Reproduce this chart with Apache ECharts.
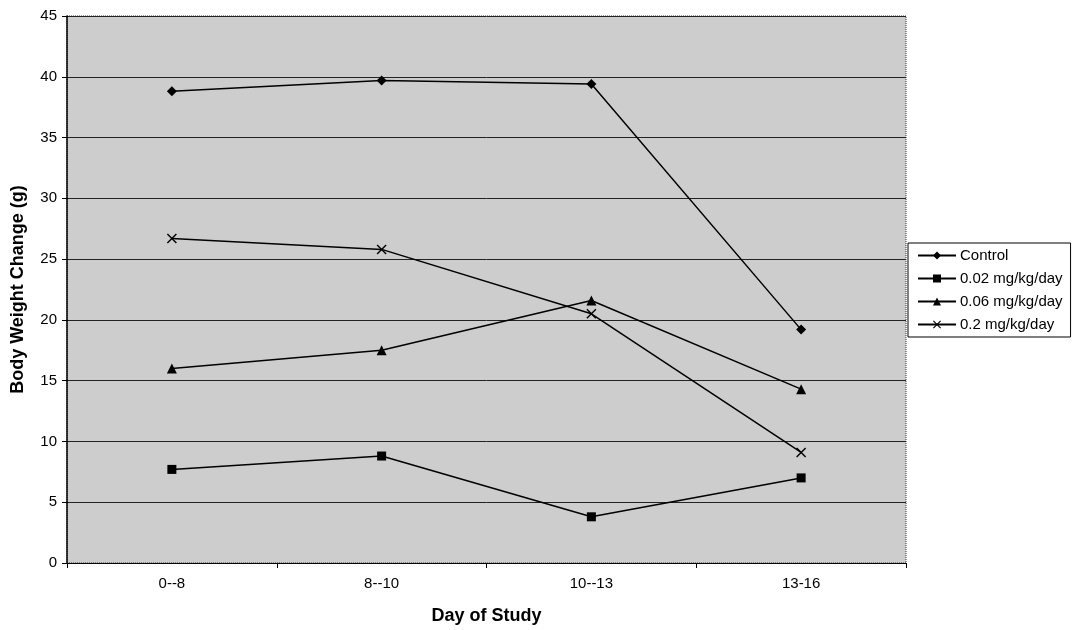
<!DOCTYPE html>
<html>
<head>
<meta charset="utf-8">
<script src="https://cdn.jsdelivr.net/npm/echarts@6/dist/echarts.min.js"></script>
<style>
  html, body { margin: 0; padding: 0; background: #ffffff; }
  #chart { width: 1073px; height: 630px; }
</style>
</head>
<body>
<div id="chart"></div>
<script>
// Body weight change per study interval, by dose group
const categories = ['0--8', '8--10', '10--13', '13-16'];
const control = [38.8, 39.7, 39.4, 19.2];
const dose002 = [7.7, 8.8, 3.8, 7.0];
const dose006 = [16.0, 17.5, 21.6, 14.3];
const dose02 = [26.7, 25.8, 20.5, 9.1];
const seriesNames = ['Control', '0.02 mg/kg/day', '0.06 mg/kg/day', '0.2 mg/kg/day'];
const yTicks = [0, 5, 10, 15, 20, 25, 30, 35, 40, 45];

const FONT = '"Liberation Sans", Arial, sans-serif';
const crossPath = 'path://M0,1L1,0L5,4L9,0L10,1L6,5L10,9L9,10L5,6L1,10L0,9L4,5Z';

function lineSeries(name, data, symbol, size) {
  return {
    name: name,
    type: 'line',
    data: data,
    symbol: symbol,
    symbolSize: size,
    lineStyle: { color: '#000', width: 1.5 },
    itemStyle: { color: '#000' },
    emphasis: { disabled: true },
    z: 3
  };
}

const chart = echarts.init(document.getElementById('chart'), null, { renderer: 'canvas' });
chart.setOption({
  animation: false,
  backgroundColor: '#ffffff',
  textStyle: { fontFamily: FONT },
  grid: {
    left: 67, top: 16, right: 167, bottom: 66,
    show: true,
    backgroundColor: '#cdcdcd',
    borderColor: '#333',
    borderWidth: 1,
    borderType: 'dotted'
  },
  legend: {
    orient: 'vertical',
    left: 908, top: 243,
    padding: [5, 8, 5, 9],
    itemGap: 8,
    itemWidth: 38,
    itemHeight: 10,
    backgroundColor: '#ffffff',
    borderColor: '#000',
    borderWidth: 1,
    textStyle: { fontFamily: FONT, fontSize: 15, color: '#000', padding: [0, 0, 0, -1] },
    data: seriesNames.map(n => ({ name: n }))
  },
  xAxis: {
    type: 'category',
    data: categories,
    boundaryGap: true,
    name: 'Day of Study',
    nameLocation: 'middle',
    nameGap: 44,
    nameTextStyle: { fontFamily: FONT, fontSize: 18, fontWeight: 'bold', color: '#000' },
    axisLine: { lineStyle: { color: '#000', width: 1 } },
    axisTick: { show: true, alignWithLabel: false, length: 5, lineStyle: { color: '#000' } },
    axisLabel: { fontFamily: FONT, fontSize: 15, color: '#000', margin: 13 },
    splitLine: { show: false }
  },
  yAxis: {
    type: 'value',
    min: yTicks[0],
    max: yTicks[yTicks.length - 1],
    interval: 5,
    name: 'Body Weight Change (g)',
    nameLocation: 'middle',
    nameGap: 40,
    nameRotate: 90,
    nameTextStyle: { fontFamily: FONT, fontSize: 18, fontWeight: 'bold', color: '#000' },
    axisLine: { show: true, lineStyle: { color: '#000', width: 1.5 } },
    axisTick: { show: true, length: 5, lineStyle: { color: '#000' } },
    axisLabel: { fontFamily: FONT, fontSize: 15, color: '#000', margin: 10 },
    splitLine: { show: true, lineStyle: { color: '#222', width: 1 } }
  },
  series: [
    lineSeries(seriesNames[0], control, 'diamond', 10),
    lineSeries(seriesNames[1], dose002, 'rect', 9),
    lineSeries(seriesNames[2], dose006, 'triangle', 10),
    lineSeries(seriesNames[3], dose02, crossPath, 10)
  ]
});
</script>
</body>
</html>
